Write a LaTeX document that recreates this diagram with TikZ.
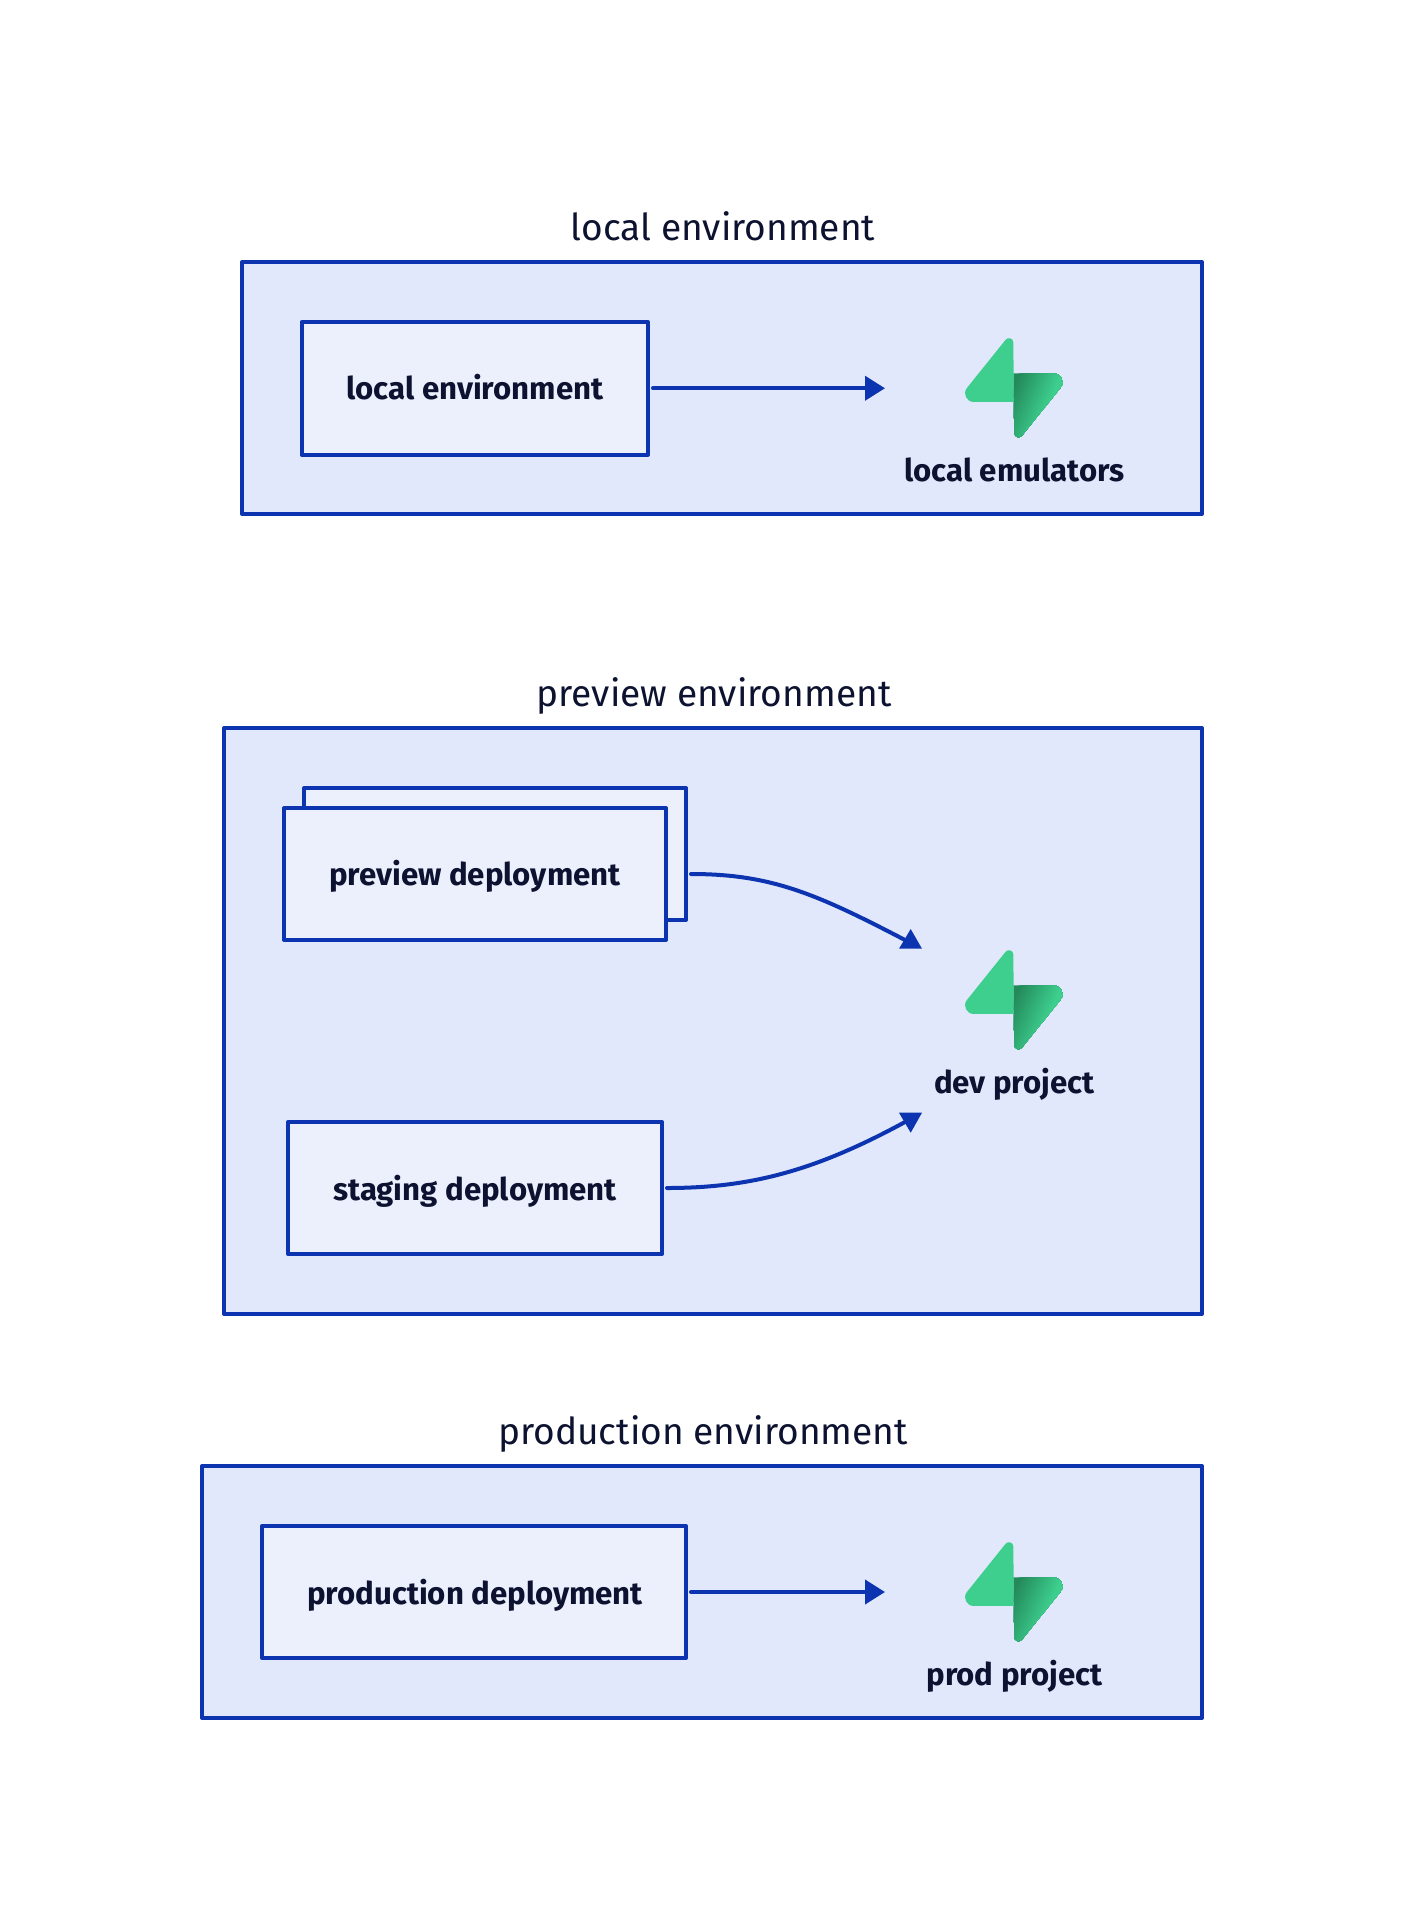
\documentclass[tikz,border=0pt]{standalone}
\usepackage{fontspec}
\setmainfont{Fira Sans}
\usetikzlibrary{arrows.meta}
\definecolor{edge}{HTML}{0D34B0}
\definecolor{outerfill}{HTML}{E1E8FB}
\definecolor{innerfill}{HTML}{ECF0FD}
\definecolor{ink}{HTML}{0C1230}
\definecolor{sbgreen}{HTML}{3ECF8E}
\definecolor{sbdark}{HTML}{23895B}
\tikzset{
  envbox/.style={draw=edge,fill=outerfill,line width=4pt,line join=round,inner sep=0pt,outer sep=0pt,anchor=north west},
  depbox/.style={draw=edge,fill=innerfill,line width=4pt,line join=round,inner sep=0pt,outer sep=0pt,anchor=north west},
  envtitle/.style={text=ink,font=\fontsize{37.1}{37.1}\selectfont,anchor=base,inner sep=0pt},
  deplabel/.style={text=ink,font=\fontsize{31.2}{31.2}\selectfont\bfseries,anchor=base,inner sep=0pt},
  conn/.style={draw=edge,line width=4pt,line cap=round},
  straightconn/.style={conn,-{Triangle[length=20pt,width=24pt]},shorten <=5pt},
  headfill/.style={fill=edge},
}
\newcommand{\sblogo}[2]{%
  \begin{scope}[shift={(#1,#2)},x=0.895pt,y=-0.885pt]
    \begin{scope}
      \clip (63.7076,110.284) .. controls (60.8481,113.885) and (55.0502,111.912) .. (54.9813,107.314)
        -- (53.9738,40.0627) -- (99.1935,40.0627)
        .. controls (107.384,40.0627) and (111.952,49.5228) .. (106.859,55.9374) -- cycle;
      \fill[sbdark] (40,30) rectangle (120,120);
      \foreach \i in {0,...,30}{%
        \pgfmathsetmacro{\pp}{100-\i*100/30}%
        \pgfmathsetmacro{\ss}{\i*44/30}%
        \pgfmathsetmacro{\ax}{54+\ss*0.923+100*0.385}%
        \pgfmathsetmacro{\ay}{55+\ss*0.385-100*0.923}%
        \pgfmathsetmacro{\bx}{54+\ss*0.923-100*0.385}%
        \pgfmathsetmacro{\by}{55+\ss*0.385+100*0.923}%
        \pgfmathsetmacro{\cx}{\bx+150*0.923}%
        \pgfmathsetmacro{\cy}{\by+150*0.385}%
        \pgfmathsetmacro{\dx}{\ax+150*0.923}%
        \pgfmathsetmacro{\dy}{\ay+150*0.385}%
        \fill[sbdark!\pp!sbgreen] (\ax,\ay) -- (\bx,\by) -- (\cx,\cy) -- (\dx,\dy) -- cycle;
      }
    \end{scope}
    \fill[sbgreen] (45.317,2.07103) .. controls (48.1765,-1.53037) and (53.9745,0.442937) .. (54.0434,5.041)
      -- (54.4849,72.2922) -- (9.83113,72.2922)
      .. controls (1.64038,72.2922) and (-2.92775,62.8321) .. (2.1655,56.4175) -- cycle;
  \end{scope}}
\begin{document}
\begin{tikzpicture}[x=1pt,y=-1pt]
\useasboundingbox (0,0) rectangle (1404,1920);
\fill[white] (0,0) rectangle (1404,1920);
% local
\node[envbox,minimum width=960pt,minimum height=252pt] (env1) at (242,262) {};
\node[envtitle] (t1) at (723,240) {local environment};
\node[depbox,minimum width=346.5pt,minimum height=132.5pt] (d1) at (301.5,322) {};
\node[deplabel] (d1l) at (475,399) {local environment};
\coordinate (e1) at (885,388.25);
\draw[straightconn] (d1.east) -- (e1);
\sblogo{965}{338}
\node[deplabel] (l1) at (1014.5,481) {local emulators};
% preview
\node[envbox,minimum width=977.7pt,minimum height=586pt] (env2) at (224.3,728) {};
\node[envtitle] (t2) at (714,706) {preview environment};
\node[depbox,minimum width=382pt,minimum height=132pt] (d2b) at (304,788) {};
\node[depbox,minimum width=382pt,minimum height=132pt] (d2) at (284,808) {};
\node[deplabel] (d2l) at (475,885) {preview deployment};
\node[depbox,minimum width=374pt,minimum height=132pt] (d3) at (288,1122) {};
\node[deplabel] (d3l) at (475,1200) {staging deployment};
\coordinate (e2) at (905,940);
\coordinate (e3) at (905,1122);
\draw[conn,shorten <=5pt] (d2b.east |- d2.east) .. controls (770,874) and (815,893) .. (e2);
\draw[conn,shorten <=5pt] (d3.east) .. controls (750,1188) and (815,1171) .. (e3);
\fill[headfill] ([xshift=5.7pt,yshift=11pt]e2) -- ([xshift=17pt,yshift=-8.7pt]e2) -- ([xshift=-6pt,yshift=-8.7pt]e2) -- cycle;
\fill[headfill] ([xshift=5.7pt,yshift=-10.7pt]e3) -- ([xshift=17pt,yshift=9.3pt]e3) -- ([xshift=-6pt,yshift=9.3pt]e3) -- cycle;
\sblogo{965}{950}
\node[deplabel] (l2) at (1014.5,1093) {dev project};
% production
\node[envbox,minimum width=1000pt,minimum height=252pt] (env3) at (202,1466) {};
\node[envtitle] (t3) at (703,1444) {production environment};
\node[depbox,minimum width=424pt,minimum height=132pt] (d4) at (262,1526) {};
\node[deplabel] (d4l) at (475,1604) {production deployment};
\coordinate (e4) at (885,1592);
\draw[straightconn] (d4.east) -- (e4);
\sblogo{965}{1542}
\node[deplabel] (l3) at (1014.5,1685) {prod project};
\end{tikzpicture}
\end{document}
